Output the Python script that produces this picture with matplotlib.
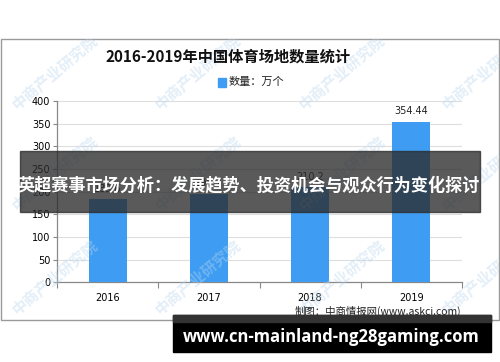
import matplotlib
matplotlib.use("Agg")
import matplotlib.pyplot as plt
from matplotlib.patches import Rectangle

plt.rcParams['font.family'] = ['Noto Sans CJK SC', 'DejaVu Sans']

# ---- data ----
years = ["2016", "2017", "2018", "2019"]
counts = [183.6, 195.7, 210.2, 354.44]
value_labels = ["183.6", "195.7", "210.2", "354.44"]
yticks = [0, 50, 100, 150, 200, 250, 300, 350, 400]
title = "2016-2019年中国体育场地数量统计"
legend_label = "数量：万个"
source = "制图：中商情报网(www.askci.com)"
overlay_title = "英超赛事市场分析：发展趋势、投资机会与观众行为变化探讨"
overlay_url = "www.cn-mainland-ng28gaming.com"
watermark = "中商产业研究院"

W, H = 500, 362
fig = plt.figure(figsize=(W / 100, H / 100), dpi=100)
fig.patch.set_facecolor("white")

def fx(px):
    return px / W

def fy(py):
    return 1 - py / H

bar_color = "#3e9df2"

# chart frame
frame = Rectangle((fx(1), fy(320)), fx(498), fy(38.5) - fy(320),
                  transform=fig.transFigure, fill=False,
                  edgecolor="#9a9a9a", lw=1.0, zorder=0)
fig.patches.append(frame)

ax = fig.add_axes([fx(57.3), fy(282.3), fx(461.7) - fx(57.3), fy(101) - fy(282.3)])
ax.set_facecolor("none")
x = list(range(len(years)))
ax.bar(x, counts, width=0.37, color=bar_color, zorder=3)
ax.set_xlim(-0.5, 3.5)
ax.set_ylim(0, 400)
ax.set_yticks(yticks)
ax.set_yticklabels([str(t) for t in yticks], fontsize=7, family="DejaVu Sans")
ax.set_xticks(x)
ax.set_xticklabels(years, fontsize=7, family="DejaVu Sans")
ax.tick_params(axis="x", length=0, pad=8)
ax.tick_params(axis="y", length=3, width=0.8, color="#888888", pad=2)
# category boundary ticks
ax.set_xticks([-0.5, 0.5, 1.5, 2.5, 3.5], minor=True)
ax.tick_params(axis="x", which="minor", length=4, width=0.8, color="#888888")
ax.grid(axis="y", color="#dedede", lw=0.8, zorder=0)
for s in ["top", "right"]:
    ax.spines[s].set_visible(False)
for s in ["left", "bottom"]:
    ax.spines[s].set_color("#888888")
    ax.spines[s].set_linewidth(0.9)

for xi, v, lab in zip(x, counts, value_labels):
    ax.text(xi, v + 12, lab, ha="center", va="bottom", fontsize=7,
            family="DejaVu Sans", color="#222222", zorder=4)

# title and legend
fig.text(fx(228), fy(57), title, ha="center", va="center", fontsize=11,
         color="#111111", fontweight="bold")
fig.patches.append(Rectangle((fx(217.5), fy(86.5)), fx(8.5), fy(78) - fy(86.5),
                             transform=fig.transFigure, color=bar_color))
fig.text(fx(229), fy(82), legend_label, ha="left", va="center", fontsize=8,
         color="#222222")

# source
fig.text(fx(461), fy(311), source, ha="right", va="center", fontsize=7.5,
         color="#222222")

# watermarks (clipped to the chart frame)
clip_rect = Rectangle((fx(1), fy(320)), fx(498), fy(38.5) - fy(320),
                      transform=fig.transFigure)
for wy in [107, 208, 312]:
    for wx in [10, 153, 297, 440]:
        t = fig.text(fx(wx + 4), fy(wy), watermark, rotation=40, ha="left",
                     va="center", fontsize=11, color="#b9d6ee", alpha=0.4,
                     rotation_mode="anchor", fontweight="bold", zorder=1)
        t.set_clip_path(clip_rect)

# overlay band
fig.patches.append(Rectangle((fx(20), fy(211.7)), fx(460), fy(150.7) - fy(211.7),
                             transform=fig.transFigure, color="#2b2b2b",
                             alpha=0.78, zorder=10))
fig.text(fx(249), fy(185), overlay_title, ha="center", va="center",
         fontsize=12.3, fontweight="bold", color="white", zorder=11)

# bottom banner
fig.patches.append(Rectangle((fx(173), fy(352)), fx(318), fy(315) - fy(352),
                             transform=fig.transFigure, color="#000000",
                             zorder=10))
fig.patches.append(Rectangle((fx(173), fy(322)), fx(318), fy(315) - fy(322),
                             transform=fig.transFigure, color="#333333",
                             zorder=10))
fig.text(fx(331), fy(337), overlay_url, ha="center", va="center",
         fontsize=12, fontweight="bold", color="white", family="Open Sans",
         zorder=11)

fig.savefig("out.png", dpi=100)
